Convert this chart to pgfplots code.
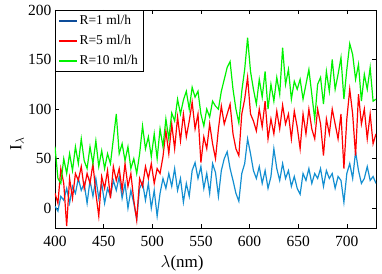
\documentclass[border=0pt]{standalone}
\usepackage{fontspec}
\setmainfont{Liberation Serif}
\usepackage{pgfplots}
\pgfplotsset{compat=1.18}
\usepackage{pgfplotstable}
\definecolor{cb}{rgb}{0.08,0.56,0.82}
\definecolor{cbl}{rgb}{0.05,0.3,0.6}
\definecolor{cg}{rgb}{0.0,0.95,0.0}
\pgfplotstableread{
x b r g
400 2 15 62
403 -3 5 30
406 12 40 25
409 8 25 50
412 20 -18 35
415 5 30 55
418 22 10 38
421 15 35 62
424 30 28 45
427 18 42 70
430 25 20 48
433 5 35 40
436 28 25 62
439 12 45 45
442 30 15 68
445 10 -8 42
448 25 32 58
451 5 20 40
454 20 38 55
457 12 10 45
460 28 42 70
463 18 28 95
466 32 40 55
469 10 18 65
472 25 45 48
475 0 22 62
478 18 35 40
481 5 8 50
484 -11 -12 35
487 20 30 55
490 26 22 83
493 8 42 60
496 25 30 72
499 0 45 52
502 18 25 75
505 -8 40 50
508 15 35 80
511 30 52 62
514 20 78 90
517 35 55 70
520 22 85 96
523 40 60 88
526 18 92 110
529 30 68 95
532 6 95 109
535 25 72 118
538 12 88 100
541 38 107 122
544 46 80 112
547 30 95 118
550 42 46 95
553 20 72 83
556 35 60 100
559 15 85 92
562 45 65 108
565 36 50 103
568 12 80 100
571 38 103 118
574 50 85 130
577 57 95 142
580 40 105 148
583 28 75 120
586 15 60 100
589 7 53 86
592 35 95 118
595 45 110 140
598 70 132 172
601 55 95 138
604 38 88 120
607 30 78 105
610 42 100 130
613 25 82 112
616 38 108 138
619 20 70 100
622 32 90 125
625 60 75 108
628 40 98 132
631 28 80 115
634 45 104 162
637 30 85 125
640 38 95 140
643 22 70 110
646 32 98 128
649 20 82 120
652 14 60 130
655 35 95 110
658 28 75 125
661 40 100 140
664 25 80 115
667 35 70 90
670 30 100 125
673 40 85 132
676 22 53 105
679 38 90 138
682 30 75 118
685 35 100 150
688 20 85 120
691 32 70 135
694 28 95 152
697 6 40 110
700 35 90 140
703 45 120 166
706 30 95 155
709 57 53 130
712 38 115 145
715 25 85 108
718 30 100 135
721 42 70 120
724 28 95 142
727 32 65 108
730 25 75 110
}\data
\begin{document}
\begin{tikzpicture}
\begin{axis}[
  scale only axis, width=321pt, height=218pt,
  xmin=400, xmax=730, ymin=-20, ymax=200,
  xtick={400,450,...,700}, ytick={0,50,...,200},
  tick align=inside, major tick length=4pt,
  tick style={black, line width=0.5pt},
  axis line style={black, line width=0.6pt},
  /pgf/number format/assume math mode=true,
  ticklabel style={font=\fontsize{15.5}{17}\selectfont},
  xticklabel style={yshift=-5pt},
  xlabel={$\lambda$(nm)}, ylabel={I$_{\lambda}$},
  label style={font=\fontsize{17}{19}\selectfont},
  xlabel style={at={(axis description cs:0.396,-0.161)}, anchor=center},
  ylabel style={at={(axis description cs:-0.118,0.385)}, anchor=center},
  legend style={name=leg, at={(0,1)}, anchor=north west, draw=none, line width=2pt,
    font=\fontsize{13.5}{15}\selectfont, inner sep=2.5pt, row sep=5pt,
    cells={anchor=west}},
]
\addlegendimage{cbl, line width=2pt}
\addlegendentry{R=1 ml/h}
\addlegendimage{red, line width=2pt}
\addlegendentry{R=5 ml/h}
\addlegendimage{cg, line width=2pt}
\addlegendentry{R=10 ml/h}
\addplot[cb, line width=1.2pt, forget plot] table[x=x, y=b] {\data};
\addplot[red, line width=1.2pt, forget plot] table[x=x, y=r] {\data};
\addplot[cg, line width=1.2pt, forget plot] table[x=x, y=g] {\data};
\end{axis}
\draw[black, line width=0.6pt] (leg.south west) rectangle (leg.north east);
\pgfresetboundingbox
\useasboundingbox ([shift={(-55pt,-45pt)}]current axis.south west) rectangle ([shift={(6pt,10pt)}]current axis.north east);
\end{tikzpicture}
\end{document}
